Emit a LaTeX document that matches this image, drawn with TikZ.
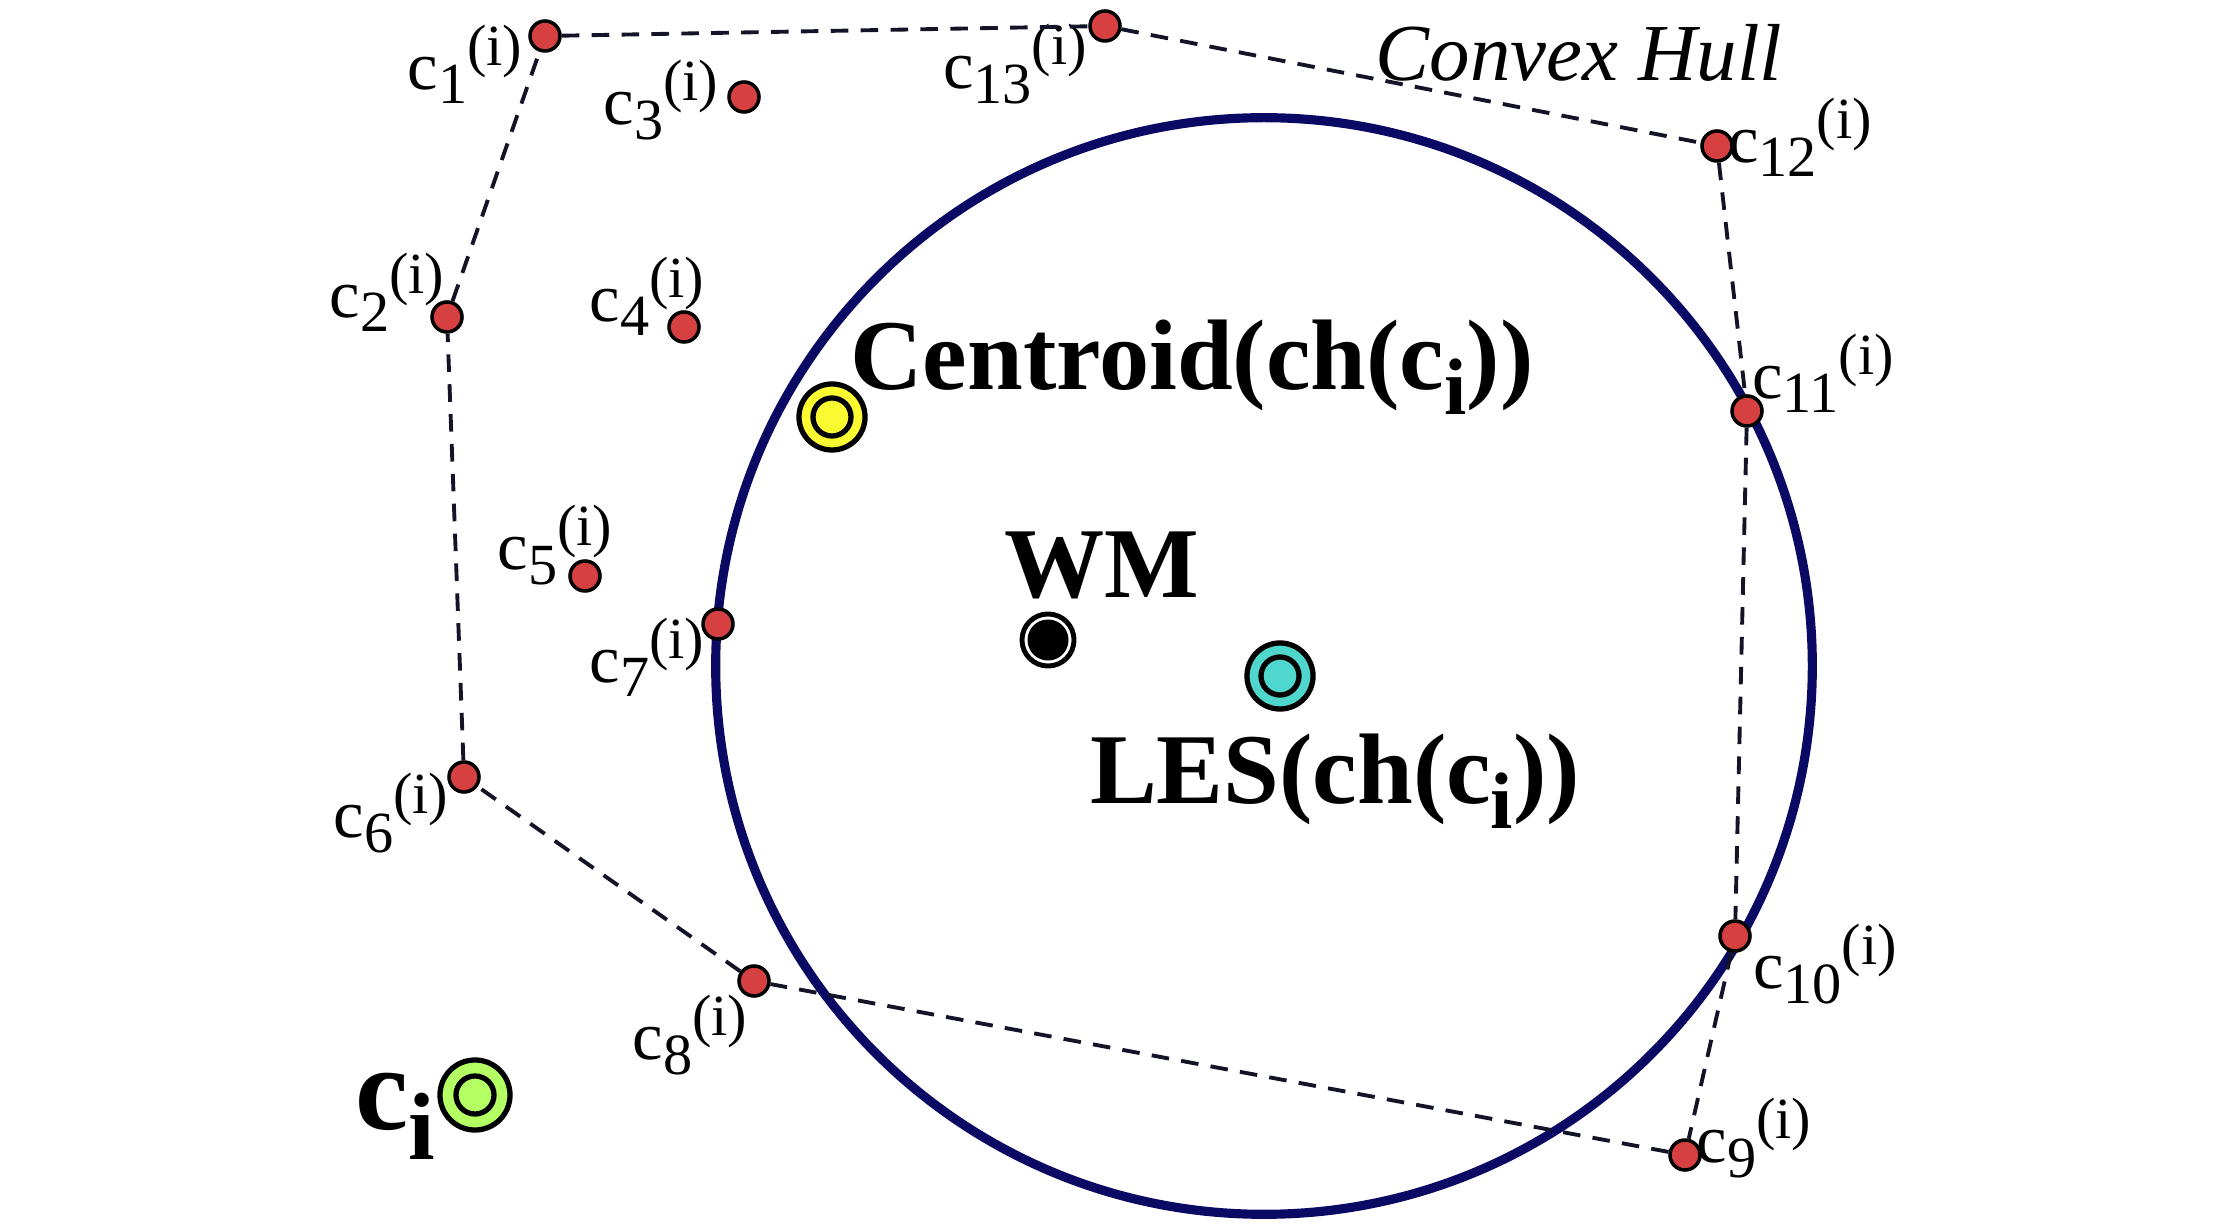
\documentclass[tikz,border=0pt]{standalone}
\usepackage{fontspec}
\setmainfont{Liberation Serif}
\usepackage{tikz}
\usetikzlibrary{positioning}

\definecolor{dotred}{RGB}{214,64,64}
\definecolor{lesnavy}{RGB}{10,10,100}
\definecolor{hullink}{RGB}{20,20,40}
\definecolor{cenyellow}{RGB}{250,250,50}
\definecolor{lescyan}{RGB}{80,215,205}
\definecolor{cigreen}{RGB}{180,255,100}

\newcommand{\cpt}[1]{c\raisebox{-0.21em}{\scalebox{0.85}{#1}}\raisebox{0.35em}{\scalebox{0.85}{(i)}}}
\newcommand{\cidx}{c\raisebox{-0.25em}{\scalebox{0.8}{i}}}

\begin{document}
\begin{tikzpicture}[
    x=0.01cm, y=-0.01cm,
    pnt/.style={circle, draw, fill=dotred, line width=1pt,
                minimum size=0.3cm, inner sep=0pt},
    lbl/.style={font=\fontsize{19.5}{21}\selectfont, inner sep=0pt},
    big/.style={font=\fontsize{28.5}{30}\selectfont\bfseries, inner sep=0pt},
    ring/.style={circle, draw, line width=1.5pt, fill=#1, minimum size=0.66cm, inner sep=0pt,
                 path picture={\draw[line width=1.5pt] (path picture bounding box.center) circle (0.19cm);}},
    wmdot/.style={circle, draw, line width=1.4pt, fill=white, minimum size=0.52cm, inner sep=0pt,
                  path picture={\fill[black] (path picture bounding box.center) circle (0.205cm);}},
    hull/.style={draw=hullink, line width=1.1pt, dash pattern=on 5pt off 3.5pt},
    les/.style={draw=lesnavy, line width=2.6pt}
]
\useasboundingbox (0,0) rectangle (2230,1225);

% enclosing sphere
\draw[les] (1264,666) circle [radius=5.48cm];

\node[pnt] (c1)  at (545,36)    {};
\node[pnt] (c2)  at (447,317)   {};
\node[pnt] (c3)  at (744,97)    {};
\node[pnt] (c4)  at (684,327)   {};
\node[pnt] (c5)  at (585,576)   {};
\node[pnt] (c6)  at (464,777)   {};
\node[pnt] (c7)  at (718,624)   {};
\node[pnt] (c8)  at (754,981)   {};
\node[pnt] (c9)  at (1685,1155) {};
\node[pnt] (c10) at (1735,936)  {};
\node[pnt] (c11) at (1747,411)  {};
\node[pnt] (c12) at (1717,146)  {};
\node[pnt] (c13) at (1105,26)   {};

\node[lbl] (l1)  at (465,64)    {\cpt{1}};
\node[lbl] (l2)  at (387,292)   {\cpt{2}};
\node[lbl] (l3)  at (661,100)   {\cpt{3}};
\node[lbl] (l4)  at (647,296)   {\cpt{4}};
\node[lbl] (l5)  at (555,545)   {\cpt{5}};
\node[lbl] (l6)  at (391,813)   {\cpt{6}};
\node[lbl] (l7)  at (647,657)   {\cpt{7}};
\node[lbl] (l8)  at (690,1035)  {\cpt{8}};
\node[lbl] (l9)  at (1754,1138) {\cpt{9}};
\node[lbl] (l10) at (1825,964)  {\cpt{10}};
\node[lbl] (l11) at (1823,373)  {\cpt{11}};
\node[lbl] (l12) at (1800,137)  {\cpt{12}};
\node[lbl] (l13) at (1015,64)   {\cpt{13}};

\node[font=\fontsize{23}{25}\selectfont\itshape, inner sep=0pt] (thull) at (1579,53) {Convex Hull};

\node[ring=cenyellow] (cen) at (832,417)  {};
\node[wmdot]          (wm)  at (1048,640) {};
\node[ring=lescyan]   (les) at (1280,676) {};
\node[ring=cigreen, minimum size=0.7cm] (ci) at (475,1095) {};

\node[big] (tcen) at (1192,367) {Centroid(ch(\cidx))};
\node[big] (twm)  at (1102,565) {WM};
\node[big] (tles) at (1335,781) {LES(ch(\cidx))};
\node[font=\fontsize{34}{36}\selectfont\bfseries, inner sep=0pt] (tci) at (395,1116) {\cidx};

\draw[hull] (c1) -- (c13) -- (c12) -- (c11) -- (c10) -- (c9) -- (c8) -- (c6) -- (c2) -- (c1);

\end{tikzpicture}
\end{document}
